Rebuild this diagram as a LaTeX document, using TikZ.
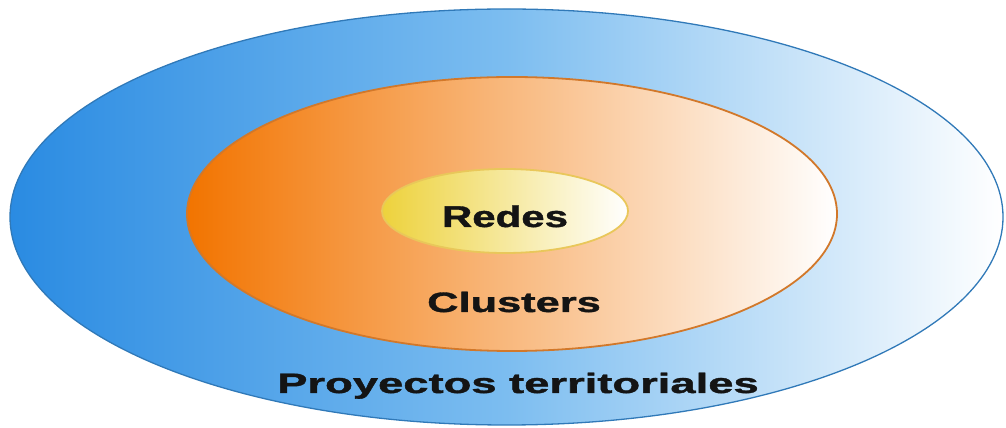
\documentclass[tikz,border=0pt]{standalone}
\usepackage{graphicx}
\usepackage{fontspec}
\setmainfont{Liberation Sans}
\newfontfamily\heavyfont{Liberation Sans Bold}[FakeBold=1.2]
\usetikzlibrary{shapes.geometric}

\definecolor{skyDark}{HTML}{2A8BE2}
\definecolor{skyMid}{HTML}{7CBDF0}
\definecolor{skyLine}{HTML}{3079B8}
\definecolor{orangeDark}{HTML}{F27400}
\definecolor{orangeLine}{HTML}{D2782A}
\definecolor{goldDark}{HTML}{EDD23C}
\definecolor{goldLine}{HTML}{E9C75A}

\newcommand{\widetext}[2][1.55]{\scalebox{#1}[1]{#2}}

\begin{document}
\begin{tikzpicture}[
  x=1pt, y=1pt,
  zone/.style={ellipse, draw, inner sep=0pt},
  tag/.style={anchor=base, font=\heavyfont\fontsize{28}{30}\selectfont, text=black!92}
]
\useasboundingbox (0,0) rectangle (1006,428);

% nested regions
\node[zone, line width=1.3pt, draw=skyLine, left color=skyDark, right color=white,
  middle color=skyMid, minimum width=993pt, minimum height=416pt] (territorio) at (506.5,211) {};
\node[zone, line width=1.8pt, draw=orangeLine, left color=orangeDark, right color=white,
  minimum width=650pt, minimum height=274pt] (cluster) at (512,214) {};
\node[zone, line width=1.8pt, draw=goldLine, left color=goldDark, right color=white,
  minimum width=246pt, minimum height=84pt] (red) at (505,217) {};

% labels
\node[tag, font=\heavyfont\fontsize{30}{32}\selectfont] (redes) at (505,201) {\widetext[1.4]{Redes}};
\node[tag] (clusters) at (514,116) {\widetext{Clusters}};
\node[tag] (proyectos) at (518,35) {\widetext[1.62]{Proyectos territoriales}};
\end{tikzpicture}
\end{document}
